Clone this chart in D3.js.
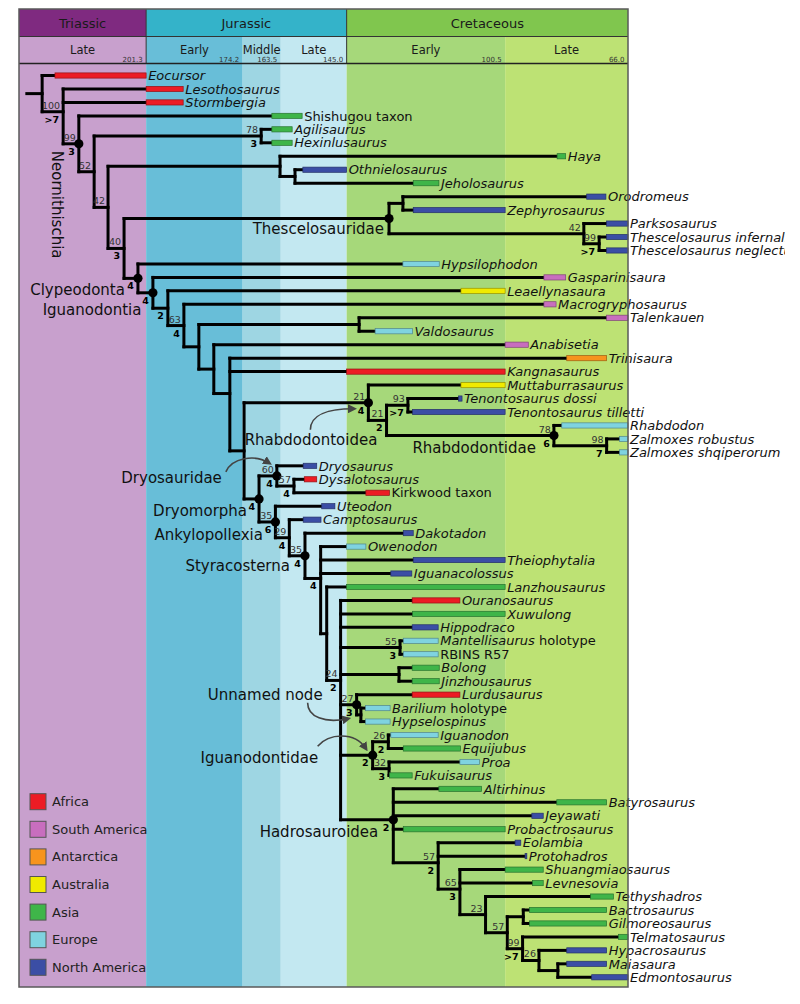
<!DOCTYPE html>
<html><head><meta charset="utf-8">
<script src="https://cdn.jsdelivr.net/npm/d3@7"></script>
<style>body{margin:0;background:#fff} svg{display:block}</style>
</head><body><svg id="chart" width="800" height="1004"></svg>
<script>
// ================= DATA =================
const periods = ["Triassic", "Jurassic", "Cretaceous"];
const periodStart = [237, 201.3, 145.0];
const periodEnd = [201.3, 145.0, 66.0];
const stages = ["Late", "Early", "Middle", "Late", "Early", "Late"];
const stageStart = [237, 201.3, 174.2, 163.5, 145.0, 100.5];
const stageEnd = [201.3, 174.2, 163.5, 145.0, 100.5, 66.0];
const ageTicks = [201.3, 174.2, 163.5, 145.0, 100.5, 66.0];
const ageTickLabels = ["201.3", "174.2", "163.5", "145.0", "100.5", "66.0"];

const regions = ["Africa", "South America", "Antarctica", "Australia", "Asia", "Europe", "North America"];
const regionCodes = ["AF", "SA", "AN", "AU", "AS", "EU", "NA"];
const regionColors = ["#ec1c24", "#c86ebe", "#f7941d", "#f0ea00", "#3fb549", "#7fd3e0", "#3b4ea5"];

const taxa = ["Eocursor","Lesothosaurus","Stormbergia","Shishugou taxon","Agilisaurus","Hexinlusaurus","Haya",
"Othnielosaurus","Jeholosaurus","Orodromeus","Zephyrosaurus","Parksosaurus","Thescelosaurus infernalis",
"Thescelosaurus neglectus","Hypsilophodon","Gasparinisaura","Leaellynasaura","Macrogryphosaurus","Talenkauen",
"Valdosaurus","Anabisetia","Trinisaura","Kangnasaurus","Muttaburrasaurus","Tenontosaurus dossi",
"Tenontosaurus tilletti","Rhabdodon","Zalmoxes robustus","Zalmoxes shqiperorum","Dryosaurus","Dysalotosaurus",
"Kirkwood taxon","Uteodon","Camptosaurus","Dakotadon","Owenodon","Theiophytalia","Iguanacolossus","Lanzhousaurus",
"Ouranosaurus","Xuwulong","Hippodraco","Mantellisaurus holotype","RBINS R57","Bolong","Jinzhousaurus","Lurdusaurus",
"Barilium holotype","Hypselospinus","Iguanodon","Equijubus","Proa","Fukuisaurus","Altirhinus","Batyrosaurus",
"Jeyawati","Probactrosaurus","Eolambia","Protohadros","Shuangmiaosaurus","Levnesovia","Tethyshadros",
"Bactrosaurus","Gilmoreosaurus","Telmatosaurus","Hypacrosaurus","Maiasaura","Edmontosaurus"];

// first / last appearance (Ma)
const firstAppearance = [226.9,201.3,201.3,166.0,166.0,166.0,85.9,157.3,126.3,77.6,126.3,72.0,72.0,72.0,129.2,89.6,
112.9,89.6,72.0,137.0,100.5,83.2,145.0,112.9,113.6,126.5,84.6,68.4,68.4,157.2,156.9,139.6,152.0,157.2,129.1,145.0,
126.3,132.6,145.0,126.6,126.5,126.6,129.1,129.1,126.6,126.6,126.6,139.7,139.7,132.6,129.1,113.2,133.0,119.1,86.0,
93.0,129.1,97.7,94.9,100.5,92.8,76.5,93.7,93.7,68.7,83.2,83.2,76.2];
const lastAppearance = [201.3,190.9,190.9,157.5,160.3,160.3,83.5,145.0,119.1,72.2,100.5,66.0,66.0,66.0,119.0,83.5,
100.5,86.2,66.0,126.5,94.0,72.0,100.5,100.5,112.6,100.5,66.0,66.0,66.0,153.4,153.4,133.0,148.3,152.2,126.3,139.6,
100.5,126.7,100.5,113.2,100.5,119.3,119.3,119.3,119.0,119.0,113.2,132.8,132.8,119.3,113.0,107.7,126.6,107.1,72.0,
89.8,100.5,96.1,94.4,89.8,89.8,70.1,72.0,72.0,66.0,72.0,72.0,66.0];
const taxonRegion = ["AF","AF","AF","AS","AS","AS","AS","NA","AS","NA","NA","NA","NA","NA","EU","SA","AU","SA","SA",
"EU","SA","AN","AF","AU","NA","NA","EU","EU","EU","NA","AF","AF","NA","NA","NA","EU","NA","NA","AS","AF","AS","NA",
"EU","EU","AS","AS","AF","EU","EU","EU","AS","EU","AS","AS","AS","NA","AS","NA","NA","AS","AS","AS","AS","AS","AS",
"NA","NA","NA"];
const nonItalicTaxa = ["Shishugou taxon", "Kirkwood taxon", "RBINS R57"];

// topology (Newick, internal nodes labelled)
const treeNewick = "(Eocursor,(Lesothosaurus,Stormbergia,(Shishugou taxon,((Agilisaurus,Hexinlusaurus)nAgil,((Haya,(Othnielosaurus,Jeholosaurus)nOJ)nHaya,(((Orodromeus,Zephyrosaurus)nOZ,(Parksosaurus,(Thescelosaurus infernalis,Thescelosaurus neglectus)nTh)nPk)Thescelosauridae,(Hypsilophodon,(Gasparinisaura,(Leaellynasaura,(Macrogryphosaurus,((Talenkauen,Valdosaurus)nTV,(Anabisetia,(Trinisaura,Kangnasaurus,((Muttaburrasaurus,((Tenontosaurus dossi,Tenontosaurus tilletti)nTen,(Rhabdodon,(Zalmoxes robustus,Zalmoxes shqiperorum)nZal)Rhabdodontidae)nR2)Rhabdodontoidea,((Dryosaurus,(Dysalotosaurus,Kirkwood taxon)nDK)Dryosauridae,(Uteodon,(Camptosaurus,(Dakotadon,(Owenodon,Theiophytalia,Iguanacolossus,(Lanzhousaurus,(Ouranosaurus,Xuwulong,Hippodraco,(Mantellisaurus holotype,RBINS R57)nMan,(Bolong,Jinzhousaurus)nBol,(Lurdusaurus,(Barilium holotype,Hypselospinus)nBH)Unnamed node,((Iguanodon,Equijubus)nIE,(Proa,Fukuisaurus)nPF)Iguanodontidae,(Altirhinus,Batyrosaurus,Jeyawati,Probactrosaurus,(Eolambia,Protohadros,(Shuangmiaosaurus,Levnesovia,(Tethyshadros,((Bactrosaurus,Gilmoreosaurus)nBG,(Telmatosaurus,(Hypacrosaurus,(Maiasaura,Edmontosaurus)nME)n23)n22)n21)n20)n19)n18)Hadrosauroidea)n17)n16)n15)Styracosterna)n14)Ankylopollexia)Dryomorpha)n12)n11)n10)n9)n8)n7)Iguanodontia)Clypeodonta)n6)n5)n4)Neornithischia)n2)n1";

const rootAge = 234.8;
const nodeIds = ["n1","n2","Neornithischia","n4","nAgil","n5","nHaya","nOJ","n6","Thescelosauridae","nOZ","nPk","nTh",
"Clypeodonta","Iguanodontia","n7","n8","n9","nTV","n10","n11","n12","Rhabdodontoidea","nR2","nTen","Rhabdodontidae",
"nZal","Dryomorpha","Dryosauridae","nDK","Ankylopollexia","n14","Styracosterna","n15","n16","n17","nMan","nBol",
"Unnamed node","nBH","Iguanodontidae","nIE","nPF","Hadrosauroidea","n18","n19","n20","n21","nBG","n22","n23","nME"];
const nodeAges = [230.5,224.6,220.2,215.9,169.0,212.0,163.7,159.5,207.5,133.1,129.2,78.4,74.1,
203.6,199.4,195.2,190.7,186.5,141.5,182.3,177.8,173.8,138.9,133.8,127.8,86.8,
72.0,169.6,164.6,159.8,165.0,161.1,156.7,152.3,150.6,146.7,130.0,130.3,
142.2,141.0,137.7,133.3,133.1,131.9,119.3,113.2,106.0,99.9,95.4,95.6,91.0,85.7];
const bootstrap = [null,"100","99","52","78","42",null,null,"40",null,null,"42","99",
null,null,null,"63",null,null,null,null,null,"21","21","93","78",
"98",null,"60","57","35","29","35",null,null,"24","55",null,
"27",null,null,"26","32",null,"57","65","23","57",null,"99","26",null];
const bremer = [null,">7","3",null,"3",null,null,null,"3",null,null,null,">7",
"4","4","2","4",null,null,null,null,null,"4","2",">7","6",
"7","4","4","4","6","4","4","4",null,"2","3",null,
"3",null,"2","2","3","2","2","3",null,null,null,">7",null,null];

const namedClades = ["Neornithischia","Thescelosauridae","Clypeodonta","Iguanodontia","Rhabdodontoidea",
"Rhabdodontidae","Dryosauridae","Dryomorpha","Ankylopollexia","Styracosterna","Unnamed node","Iguanodontidae","Hadrosauroidea"];

// ================= LAYOUT / STYLE =================
const L = 19, R = 628, T = 9, YP = 36.5, YS = 63.5, B = 987;
const periodFill = ["#7f2a80", "#34b3c9", "#80c64e"];
const stageFill = ["#c8a0cd", "#68bed8", "#9ed6e3", "#c3e8f1", "#a6d87a", "#bde274"];
const FONT = "DejaVu Sans, Verdana, sans-serif";
// clade label offsets relative to node (text-anchor end)
const cladeLabelPos = {
  "Neornithischia": {dx: -27, dy: 7, rotate: true},
  "Thescelosauridae": {dx: -5, dy: 10.5},
  "Clypeodonta": {dx: -13, dy: 11.5},
  "Iguanodontia": {dx: -11.5, dy: 16.5},
  "Rhabdodontoidea": {dx: 9, dy: 37},
  "Rhabdodontidae": {dx: -18, dy: 12.5},
  "Dryosauridae": {dx: -55, dy: 1.5},
  "Dryomorpha": {dx: -12, dy: 11.5},
  "Ankylopollexia": {dx: -12.5, dy: 13},
  "Styracosterna": {dx: -15, dy: 10},
  "Unnamed node": {dx: -34, dy: -10},
  "Iguanodontidae": {dx: -54.5, dy: 3},
  "Hadrosauroidea": {dx: -15, dy: 12}
};
const arrowPos = {
  "Rhabdodontoidea": [[-58, 27], [-58, 12], [-40, 6], [-15, 6]],
  "Dryosauridae": [[-51, -4], [-45, -18], [-22, -22], [-8, -13]],
  "Unnamed node": [[-49, -2], [-49, 12], [-32, 19], [-9, 14]],
  "Iguanodontidae": [[-55, -9], [-44, -22], [-18, -24], [-7, -7]]
};

// ================= BUILD =================
const svg = d3.select("#chart");
const x = d3.scaleLinear().domain([237, 66]).range([L, R]);
const y = d3.scalePoint().domain(taxa).range([75.5, 977.3]);
const colorOf = d3.scaleOrdinal().domain(regionCodes).range(regionColors);

const defs = svg.append("defs");
defs.append("clipPath").attr("id", "clip").append("rect").attr("x", 0).attr("y", 0).attr("width", 785).attr("height", 1004);
defs.append("marker").attr("id", "ah").attr("viewBox", "0 0 10 10").attr("refX", 6).attr("refY", 5)
  .attr("markerWidth", 9).attr("markerHeight", 9).attr("markerUnits", "userSpaceOnUse").attr("orient", "auto")
  .append("path").attr("d", "M0,0L10,5L0,10z").attr("fill", "#444");

const root0 = svg.append("g").attr("clip-path", "url(#clip)");

// body background
root0.append("g").selectAll("rect").data(stages).join("rect")
  .attr("x", (d, i) => x(stageStart[i])).attr("width", (d, i) => x(stageEnd[i]) - x(stageStart[i]))
  .attr("y", YS).attr("height", B - YS).attr("fill", (d, i) => stageFill[i]);

// header: stages
const hdr = root0.append("g");
hdr.selectAll("rect.st").data(stages).join("rect").attr("class", "st")
  .attr("x", (d, i) => x(stageStart[i])).attr("width", (d, i) => x(stageEnd[i]) - x(stageStart[i]))
  .attr("y", YP).attr("height", YS - YP).attr("fill", (d, i) => stageFill[i]);
hdr.selectAll("rect.pe").data(periods).join("rect").attr("class", "pe")
  .attr("x", (d, i) => x(periodStart[i])).attr("width", (d, i) => x(periodEnd[i]) - x(periodStart[i]))
  .attr("y", T).attr("height", YP - T).attr("fill", (d, i) => periodFill[i]);
hdr.selectAll("text.pe").data(periods).join("text").attr("class", "pe")
  .attr("x", (d, i) => (x(periodStart[i]) + x(periodEnd[i])) / 2).attr("y", 27.5)
  .attr("text-anchor", "middle").attr("font-family", FONT).attr("font-size", 13).attr("fill", "#1a1a1a").text(d => d);
hdr.selectAll("text.st").data(stages).join("text").attr("class", "st")
  .attr("x", (d, i) => (x(stageStart[i]) + x(stageEnd[i])) / 2).attr("y", 53.5)
  .attr("text-anchor", "middle").attr("font-family", FONT).attr("font-size", 11.5).attr("fill", "#1a1a1a").text(d => d);
hdr.selectAll("text.age").data(ageTicks).join("text").attr("class", "age")
  .attr("x", d => x(d) - 3.5).attr("y", 61.5)
  .attr("text-anchor", "end").attr("font-family", FONT).attr("font-size", 7).attr("fill", "#333")
  .text((d, i) => ageTickLabels[i]);
hdr.append("line").attr("x1", L).attr("x2", R).attr("y1", YP).attr("y2", YP).attr("stroke", "#333").attr("stroke-width", 1);
hdr.selectAll("line.pb").data(periodEnd.slice(0, 2)).join("line").attr("class", "pb")
  .attr("x1", d => x(d)).attr("x2", d => x(d)).attr("y1", T).attr("y2", YS).attr("stroke", "#333").attr("stroke-width", 1);
hdr.append("line").attr("x1", L).attr("x2", R).attr("y1", YS).attr("y2", YS).attr("stroke", "#222").attr("stroke-width", 1.6);

// ---- tree ----
function parseNewick(s) {
  let i = 0;
  function node() {
    const n = {children: []};
    if (s[i] === "(") {
      i++;
      n.children.push(node());
      while (s[i] === ",") { i++; n.children.push(node()); }
      i++;
    }
    let name = "";
    while (i < s.length && !",()".includes(s[i])) name += s[i++];
    n.name = name.trim();
    return n;
  }
  return node();
}
const ageOf = new Map(nodeIds.map((id, i) => [id, nodeAges[i]]));
const bootOf = new Map(nodeIds.map((id, i) => [id, bootstrap[i]]));
const bremOf = new Map(nodeIds.map((id, i) => [id, bremer[i]]));
const leafIdx = new Map(taxa.map((t, i) => [t, i]));
const tree = d3.hierarchy(parseNewick(treeNewick), d => d.children.length ? d.children : null);
tree.eachAfter(n => {
  if (!n.children) {
    n.px = x(firstAppearance[leafIdx.get(n.data.name)]);
    n.py = y(n.data.name);
  } else {
    n.px = x(ageOf.get(n.data.name));
    n.py = d3.mean(n.children, c => c.py);
  }
});
const segs = [[x(rootAge), tree.py, tree.px, tree.py]];
tree.each(n => {
  if (n.children) {
    const ys = n.children.map(c => c.py);
    segs.push([n.px, d3.min(ys), n.px, d3.max(ys)]);
    n.children.forEach(c => segs.push([n.px, c.py, c.px, c.py]));
  }
});
const tg = root0.append("g");
tg.selectAll("line").data(segs).join("line")
  .attr("x1", d => d[0]).attr("y1", d => d[1]).attr("x2", d => d[2]).attr("y2", d => d[3])
  .attr("stroke", "#000").attr("stroke-width", 3).attr("stroke-linecap", "square");

// range bars
tg.selectAll("rect.bar").data(taxa).join("rect").attr("class", "bar")
  .attr("x", (d, i) => x(firstAppearance[i]))
  .attr("width", (d, i) => Math.max(1.2, x(lastAppearance[i]) - x(firstAppearance[i])))
  .attr("y", d => y(d) - 2.6).attr("height", 5.2)
  .attr("fill", (d, i) => colorOf(taxonRegion[i]))
  .attr("stroke", (d, i) => d3.color(colorOf(taxonRegion[i])).darker(1.3)).attr("stroke-width", 0.7);

// node dots
const internal = tree.descendants().filter(n => n.children);
const byName = new Map(internal.map(n => [n.data.name, n]));
tg.selectAll("circle").data(namedClades).join("circle")
  .attr("cx", d => byName.get(d).px).attr("cy", d => byName.get(d).py).attr("r", 4.6).attr("fill", "#000");

// support values
tg.selectAll("text.boot").data(internal.filter(n => bootOf.get(n.data.name))).join("text").attr("class", "boot")
  .attr("x", n => n.px - 3).attr("y", n => n.py - 3)
  .attr("text-anchor", "end").attr("font-family", FONT).attr("font-size", 9.5).attr("fill", "#333")
  .text(n => bootOf.get(n.data.name));
tg.selectAll("text.brem").data(internal.filter(n => bremOf.get(n.data.name))).join("text").attr("class", "brem")
  .attr("x", n => n.px - 4).attr("y", n => n.py + 11)
  .attr("text-anchor", "end").attr("font-family", FONT).attr("font-size", 9.5).attr("font-weight", "bold").attr("fill", "#000")
  .text(n => bremOf.get(n.data.name));

// taxon labels
const lab = tg.selectAll("text.tax").data(taxa).join("text").attr("class", "tax")
  .attr("x", (d, i) => x(lastAppearance[i]) + 2).attr("y", d => y(d)).attr("dy", "0.36em")
  .attr("font-family", FONT).attr("font-size", 13).attr("fill", "#111");
lab.each(function(d) {
  const t = d3.select(this);
  if (nonItalicTaxa.includes(d)) { t.text(d); return; }
  const m = d.match(/^(\S+) (holotype)$/);
  if (m) {
    t.append("tspan").attr("font-style", "italic").text(m[1]);
    t.append("tspan").text(" " + m[2]);
  } else t.attr("font-style", "italic").text(d);
});

// clade labels
namedClades.forEach(c => {
  const n = byName.get(c), p = cladeLabelPos[c];
  if (p.rotate) {
    tg.append("text").attr("transform", `translate(${n.px + p.dx},${n.py + p.dy}) rotate(90)`)
      .attr("font-family", FONT).attr("font-size", 15).attr("fill", "#111").text(c);
  } else {
    tg.append("text").attr("x", n.px + p.dx).attr("y", n.py + p.dy).attr("dy", "0.35em")
      .attr("text-anchor", "end").attr("font-family", FONT).attr("font-size", 15).attr("fill", "#111").text(c);
  }
});
Object.keys(arrowPos).forEach(c => {
  const n = byName.get(c), pts = arrowPos[c].map(p => [n.px + p[0], n.py + p[1]]);
  const path = d3.path();
  path.moveTo(...pts[0]);
  path.bezierCurveTo(...pts[1], ...pts[2], ...pts[3]);
  tg.append("path").attr("d", path.toString()).attr("fill", "none").attr("stroke", "#444")
    .attr("stroke-width", 1.6).attr("marker-end", "url(#ah)");
});

// legend
const lg = root0.append("g");
regions.forEach((r, i) => {
  const cy = 801.7 + i * 27.6;
  lg.append("rect").attr("x", 30).attr("y", cy - 8).attr("width", 16).attr("height", 16)
    .attr("fill", regionColors[i]).attr("stroke", "#555").attr("stroke-width", 1);
  lg.append("text").attr("x", 52).attr("y", cy).attr("dy", "0.35em")
    .attr("font-family", FONT).attr("font-size", 13).attr("fill", "#222").text(r);
});

// frame
root0.append("rect").attr("x", L).attr("y", T).attr("width", R - L).attr("height", B - T)
  .attr("fill", "none").attr("stroke", "#5a5a5a").attr("stroke-width", 1.5);
</script></body></html>
